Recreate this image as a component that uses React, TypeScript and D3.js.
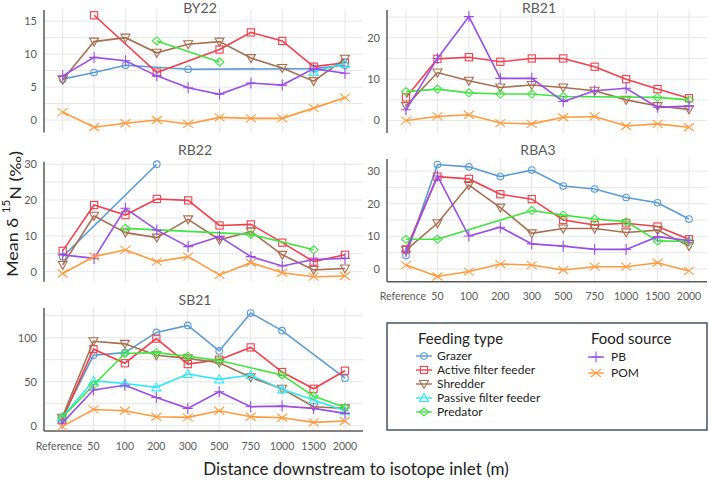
import React from 'react';
import * as d3 from 'd3';

const N = null;
const categories = ['Reference', '50', '100', '200', '300', '500', '750', '1000', '1500', '2000'];
const seriesNames = ['Grazer', 'Active filter feeder', 'Shredder', 'Passive filter feeder', 'Predator', 'PB', 'POM'];

// BY22
const by22Grazer = [6.2, 7.2, 8.3, N, 7.7, N, N, N, 7.8, 8.3];
const by22Active = [N, 15.9, N, 7.2, N, 10.7, 13.3, 12.0, 8.1, 8.7];
const by22Shredder = [6.1, 11.9, 12.5, 10.2, 11.5, 11.9, 9.4, 7.9, 5.9, 9.3];
const by22Passive = [N, N, N, N, N, N, N, N, 7.3, 8.6];
const by22Predator = [N, N, N, 12.0, N, 8.8, N, N, N, N];
const by22PB = [6.7, 9.5, 9.0, 6.7, 4.9, 3.9, 5.6, 5.3, 7.8, 7.1];
const by22POM = [1.2, -1.1, -0.5, 0, -0.6, 0.4, 0.25, 0.25, 1.8, 3.4];

// RB21
const rb21Grazer = [N, N, N, N, N, N, N, N, N, N];
const rb21Active = [5.6, 14.9, 15.3, 14.2, 15.0, 15.0, 13.0, 10.0, 7.6, 5.4];
const rb21Shredder = [3.5, 11.6, 9.6, 8.0, 8.6, 8.0, 7.2, 5.0, 3.5, 2.7];
const rb21Passive = [N, N, N, N, N, N, N, N, N, N];
const rb21Predator = [7.0, 7.6, 6.7, 6.4, 6.4, 5.8, N, N, 5.6, 5.0];
const rb21PB = [2.6, 15.0, 25.1, 10.2, 10.2, 4.6, 7.2, 7.8, 3.2, 3.5];
const rb21POM = [0, 1.0, 1.4, -0.6, -0.8, 0.8, 1.0, -1.3, -0.8, -1.6];

// RB22
const rb22Grazer = [4.2, N, N, 30.0, N, N, N, N, N, N];
const rb22Active = [5.8, 18.6, 15.8, 20.3, 19.9, 12.9, 13.2, 8.1, 2.8, 4.7];
const rb22Shredder = [1.9, 15.6, 10.9, 9.5, 14.6, 8.9, 11.2, 4.7, 0.5, 0.9];
const rb22Passive = [N, N, N, N, N, N, N, N, N, N];
const rb22Predator = [N, N, 12.1, N, N, N, 10.4, N, 6.1, N];
const rb22PB = [4.7, 3.7, 17.7, 11.6, 7.0, 9.8, 4.2, 1.6, 3.4, 3.7];
const rb22POM = [-0.5, 4.2, 6.1, 2.8, 4.2, -0.9, 2.5, -0.3, -1.4, -1.2];

// RBA3
const rba3Grazer = [4.1, 32.0, 31.3, 28.3, 30.3, 25.4, 24.5, 21.9, 20.3, 15.3];
const rba3Active = [6.0, 28.3, 27.6, 22.9, 21.4, 15.0, 13.5, 14.0, 13.0, 9.1];
const rba3Shredder = [5.8, 14.0, 25.7, 18.8, 10.9, 12.4, 12.4, 11.2, 11.9, 7.0];
const rba3Passive = [N, N, N, N, N, N, N, N, N, N];
const rba3Predator = [9.1, 9.1, N, N, 17.9, 16.5, 15.3, 14.5, 8.6, 8.4];
const rba3PB = [5.3, 28.5, 10.1, 12.8, 7.7, 7.0, 6.0, 6.0, 9.9, 8.7];
const rba3POM = [1.2, -2.3, -0.8, 1.5, 1.2, -0.3, 0.7, 0.7, 1.9, -0.6];

// SB21
const sb21Grazer = [8.3, 80, 83, 106, 114, 85, 128, 108, N, 54];
const sb21Active = [6.4, 87, 71, 99, 70, 75, 89, 61, 42, 62.5];
const sb21Shredder = [9, 96, 93, 80, 76.5, 71.6, 55, 42, 21.6, 19.7];
const sb21Passive = [9.5, 51, 48, 43.6, 58.7, 52.7, 57.6, 41.3, 29.2, 17];
const sb21Predator = [9, 46, 82, 83, 79, 74, N, 57.6, 33.7, 20.8];
const sb21PB = [2.7, 40.5, 46, 32, 19.7, 38.6, 21.6, 22.3, 19.7, 14];
const sb21POM = [-1, 18.5, 17, 10.2, 9.5, 17, 10.2, 9, 3.8, 5.3];

const yTicksBY22 = [0, 5, 10, 15];
const yTicksRB21 = [0, 10, 20];
const yTicksRB22 = [0, 10, 20, 30];
const yTicksRBA3 = [0, 10, 20, 30];
const yTicksSB21 = [0, 50, 100];

const COLORS = ['#5b9bd5', '#f0404c', '#a86e4e', '#2ee8f8', '#3fe63f', '#9b4ee6', '#ff9a3a'];
const SHAPES = ['circle', 'square', 'tridown', 'triup', 'diamond', 'plus', 'cross'];

type Panel = {
  title: string;
  series: (number | null)[][];
  ticks: number[];
  gridStep: number;
  domain: [number, number];
  range: [number, number];
  axisX: number;
  xRange: [number, number];
  right: number;
  showX: boolean;
  titleX: number;
  titleY: number;
};

const panels: Panel[] = [
  { title: 'BY22', series: [by22Grazer, by22Active, by22Shredder, by22Passive, by22Predator, by22PB, by22POM], ticks: yTicksBY22, gridStep: 2.5, domain: [-1.9, 16.7], range: [132.5, 10], axisX: 44, xRange: [62.7, 345], right: 363, showX: false, titleX: 200, titleY: 8 },
  { title: 'RB21', series: [rb21Grazer, rb21Active, rb21Shredder, rb21Passive, rb21Predator, rb21PB, rb21POM], ticks: yTicksRB21, gridStep: 5, domain: [-3, 26.7], range: [133, 10], axisX: 387, xRange: [406, 689], right: 707, showX: false, titleX: 539, titleY: 8 },
  { title: 'RB22', series: [rb22Grazer, rb22Active, rb22Shredder, rb22Passive, rb22Predator, rb22PB, rb22POM], ticks: yTicksRB22, gridStep: 5, domain: [-2.8, 30.7], range: [281.7, 161.7], axisX: 44, xRange: [62.7, 345], right: 363, showX: false, titleX: 195, titleY: 150 },
  { title: 'RBA3', series: [rba3Grazer, rba3Active, rba3Shredder, rba3Passive, rba3Predator, rba3PB, rba3POM], ticks: yTicksRBA3, gridStep: 5, domain: [-3.9, 33.7], range: [281.7, 159], axisX: 387, xRange: [406, 689], right: 707, showX: true, titleX: 538, titleY: 150 },
  { title: 'SB21', series: [sb21Grazer, sb21Active, sb21Shredder, sb21Passive, sb21Predator, sb21PB, sb21POM], ticks: yTicksSB21, gridStep: 25, domain: [-6, 133.75], range: [431, 308], axisX: 44, xRange: [62, 345], right: 363, showX: true, titleX: 195, titleY: 300 },
];

function Marker({ shape, x, y, color }: { shape: string; x: number; y: number; color: string }) {
  const common = { stroke: color, strokeWidth: 1.1, fill: 'none' };
  switch (shape) {
    case 'circle':
      return <circle cx={x} cy={y} r={3.3} {...common} />;
    case 'square':
      return <rect x={x - 3.6} y={y - 3.6} width={7.2} height={7.2} {...common} />;
    case 'tridown':
      return <path d={`M${x - 4.5},${y - 3.5}L${x + 4.5},${y - 3.5}L${x},${y + 4.5}Z`} {...common} />;
    case 'triup':
      return <path d={`M${x - 4.5},${y + 3.5}L${x + 4.5},${y + 3.5}L${x},${y - 4.5}Z`} {...common} />;
    case 'diamond':
      return <path d={`M${x - 4.5},${y}L${x},${y - 4}L${x + 4.5},${y}L${x},${y + 4}Z`} {...common} />;
    case 'plus':
      return <path d={`M${x - 5},${y}L${x + 5},${y}M${x},${y - 5.5}L${x},${y + 5.5}`} {...common} />;
    case 'cross':
      return <path d={`M${x - 5},${y - 4}L${x + 5},${y + 4}M${x - 5},${y + 4}L${x + 5},${y - 4}`} {...common} />;
    default:
      return null;
  }
}

const FONT = 'Lato, "Open Sans", sans-serif';

function PanelView({ p }: { p: Panel }) {
  const x = d3.scalePoint<string>().domain(categories).range(p.xRange);
  const y = d3.scaleLinear().domain(p.domain).range(p.range);
  const gridVals = d3.range(Math.ceil(p.domain[0] / p.gridStep) * p.gridStep, p.domain[1], p.gridStep);
  const line = d3
    .line<{ c: string; v: number }>()
    .x((d) => x(d.c) as number)
    .y((d) => y(d.v));
  return (
    <g>
      {gridVals.map((g) => (
        <line key={'h' + g} x1={p.axisX} x2={p.right} y1={y(g)} y2={y(g)} stroke="#e6e6e6" strokeWidth={1} />
      ))}
      {categories.map((c) => (
        <line key={'v' + c} x1={x(c)} x2={x(c)} y1={p.range[0]} y2={p.range[1]} stroke="#e6e6e6" strokeWidth={1} />
      ))}
      <line x1={p.axisX} x2={p.axisX} y1={p.range[0]} y2={p.range[1]} stroke="#595959" strokeWidth={1.5} />
      {p.showX && <line x1={p.axisX} x2={p.right} y1={p.range[0]} y2={p.range[0]} stroke="#595959" strokeWidth={1.5} />}
      {p.ticks.map((t) => (
        <text key={'t' + t} x={p.axisX - 7} y={y(t)} dy="0.35em" textAnchor="end" fontSize={11} fill="#595959" fontFamily={FONT}>
          {t}
        </text>
      ))}
      {p.showX &&
        categories.map((c, i) => (
          <text key={'c' + c} x={(x(c) as number) + (i === 0 ? -3 : 0)} y={p.range[0] + 15} dy="0.35em" textAnchor="middle" fontSize={10.5} fill="#595959" fontFamily={FONT}>
            {c}
          </text>
        ))}
      <text x={p.titleX} y={p.titleY} dy="0.35em" textAnchor="middle" fontSize={14} fill="#595959" fontFamily={FONT}>
        {p.title}
      </text>
      {p.series.map((vals, si) => {
        const pts = vals
          .map((v, i) => ({ c: categories[i], v: v as number }))
          .filter((d) => d.v !== null && d.v !== undefined);
        if (pts.length === 0) return null;
        return (
          <g key={'s' + si}>
            <path d={line(pts) || ''} fill="none" stroke={COLORS[si]} strokeWidth={1.6} />
            {pts.map((d) => (
              <Marker key={d.c} shape={SHAPES[si]} x={x(d.c) as number} y={y(d.v)} color={COLORS[si]} />
            ))}
          </g>
        );
      })}
    </g>
  );
}

function Legend() {
  const feeding = [0, 1, 2, 3, 4];
  const food = [5, 6];
  return (
    <g fontFamily={FONT}>
      <rect x={387} y={323} width={320} height={107} fill="white" stroke="#44546a" strokeWidth={1.5} />
      <text x={418} y={344} fontSize={15} fill="#222">Feeding type</text>
      <text x={591} y={344} fontSize={15} fill="#222">Food source</text>
      {feeding.map((si, i) => {
        const cy = 356 + i * 14;
        return (
          <g key={si}>
            <line x1={416} x2={432} y1={cy} y2={cy} stroke={COLORS[si]} strokeWidth={1.4} />
            <Marker shape={SHAPES[si]} x={424} y={cy} color={COLORS[si]} />
            <text x={437} y={cy} dy="0.35em" fontSize={12} fill="#222">{seriesNames[si]}</text>
          </g>
        );
      })}
      {food.map((si, i) => {
        const cy = 357 + i * 16;
        return (
          <g key={si}>
            <line x1={588} x2={604} y1={cy} y2={cy} stroke={COLORS[si]} strokeWidth={1.4} />
            <Marker shape={SHAPES[si]} x={596} y={cy} color={COLORS[si]} />
            <text x={611} y={cy} dy="0.35em" fontSize={12} fill="#222">{seriesNames[si]}</text>
          </g>
        );
      })}
    </g>
  );
}

export default function App() {
  return (
    <svg width={709} height={485} style={{ position: 'absolute', left: 0, top: 0, background: 'white' }}>
      {panels.map((p) => (
        <PanelView key={p.title} p={p} />
      ))}
      <Legend />
      <text x={356} y={469} dy="0.35em" textAnchor="middle" fontSize={17} fill="#222" fontFamily={FONT}>
        Distance downstream to isotope inlet (m)
      </text>
      <text transform="translate(12,214) rotate(-90)" dy="0.35em" textAnchor="middle" fontSize={16} fill="#222" fontFamily={FONT} textLength={126} lengthAdjust="spacingAndGlyphs">
        Mean δ <tspan fontSize={10.5} dy="-0.7em">15</tspan><tspan dy="0.7em">N (‰)</tspan>
      </text>
    </svg>
  );
}
